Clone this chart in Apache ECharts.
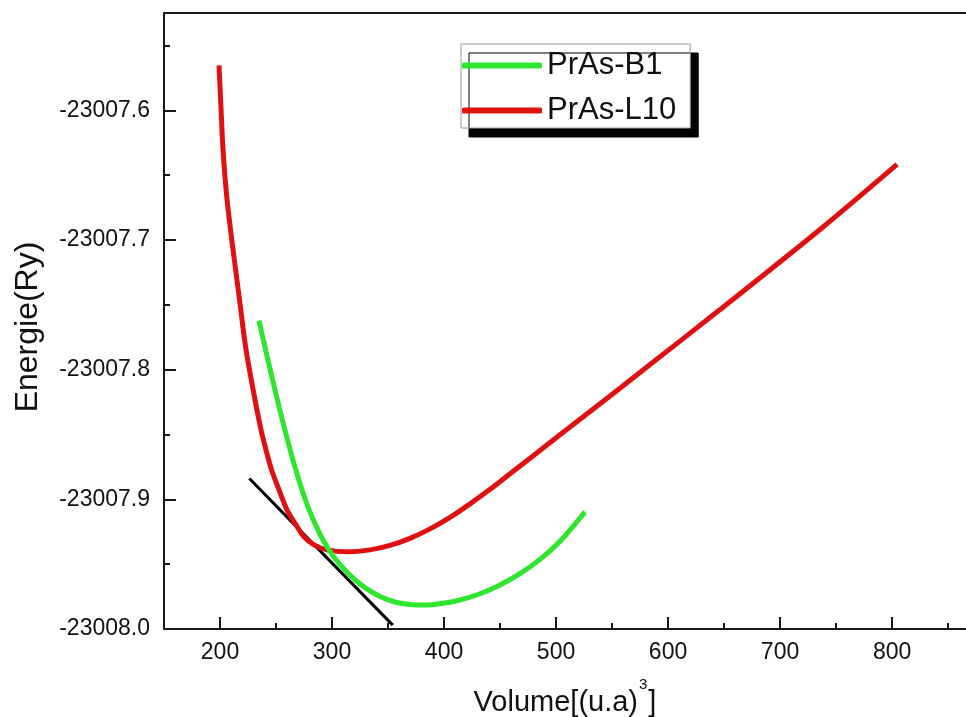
<!DOCTYPE html>
<html><head><meta charset="utf-8">
<script src="https://cdn.jsdelivr.net/npm/echarts@6/dist/echarts.min.js"></script>
<style>html,body{margin:0;padding:0;background:#fff}#c{width:966px;height:717px}</style>
</head><body><div id="c"></div>
<script>
const seriesNames = ['PrAs-B1', 'PrAs-L10'];
const b1Volume = [234.82, 241.07, 247.32, 253.57, 259.82, 266.07, 272.32, 278.57, 285.71, 292.86, 300.89, 309.82, 319.64, 330.36, 342.86, 356.25, 369.64, 382.14, 396.43, 412.5, 430.36, 448.21, 466.07, 485.71, 503.57, 525.89];
const b1Energy = [-23007.7622, -23007.7861, -23007.8093, -23007.8317, -23007.8529, -23007.8726, -23007.8903, -23007.9058, -23007.9205, -23007.9328, -23007.9436, -23007.9529, -23007.9614, -23007.9687, -23007.9749, -23007.9792, -23007.9811, -23007.9815, -23007.9805, -23007.9780, -23007.9734, -23007.9668, -23007.9583, -23007.9463, -23007.9324, -23007.9097];
const l10Volume = [199.11, 200.54, 202.68, 206.25, 211.61, 217.41, 223.21, 231.25, 236.61, 241.07, 245.98, 252.68, 259.82, 267.86, 275.0, 283.93, 295.54, 314.29, 333.93, 351.79, 369.64, 387.5, 405.36, 423.21, 441.07, 458.93, 476.79, 503.57, 539.29, 583.93, 646.43, 735.71, 804.46];
const l10Energy = [-23007.5653, -23007.5915, -23007.6301, -23007.6687, -23007.7073, -23007.7459, -23007.7846, -23007.8232, -23007.8463, -23007.8618, -23007.8772, -23007.8927, -23007.9081, -23007.9197, -23007.9290, -23007.9351, -23007.9390, -23007.9405, -23007.9390, -23007.9355, -23007.9301, -23007.9228, -23007.9139, -23007.9035, -23007.8923, -23007.8803, -23007.8683, -23007.8502, -23007.8263, -23007.7961, -23007.7537, -23007.6919, -23007.6417];
const tangentVolume = [226.2, 354.2];
const tangentEnergy = [-23007.884, -23007.997];
const xMajorTicks = [200, 300, 400, 500, 600, 700, 800];
const xMinorTicks = [250, 350, 450, 550, 650, 750, 850];
const xRange = [150, 866];
const yRange = [-23008.0, -23007.525];
const yStep = 0.1;

const pairs = (xs, ys) => xs.map((x, i) => [x, ys[i]]);
const FONT = 'Arial, "Liberation Sans", sans-serif';
const AX = '#1a1a1a';

const chart = echarts.init(document.getElementById('c'), null, {renderer: 'canvas'});
chart.setOption({
  animation: false,
  backgroundColor: '#ffffff',
  grid: {left: 164, top: 13, right: 0, bottom: 88, containLabel: false, outerBoundsMode: 'none'},
  legend: {
    data: seriesNames,
    orient: 'vertical',
    left: 461, top: 44,
    padding: [6, 14, 2, 1],
    itemGap: 14,
    itemWidth: 80, itemHeight: 6,
    itemTextGap: 6,
    icon: 'roundRect',
    backgroundColor: '#ffffff',
    borderColor: '#9a9a9a', borderWidth: 1,
    shadowColor: '#000000', shadowBlur: 0, shadowOffsetX: 8, shadowOffsetY: 9,
    textStyle: {fontFamily: FONT, fontSize: 31, color: '#111'}
  },
  xAxis: [
    {
      type: 'value', min: xRange[0], max: xRange[1], position: 'bottom',
      name: '{a|Volume[(u.a)}{s|3}{a|]}', nameLocation: 'middle', nameGap: 40, nameMoveOverlap: false,
      nameTextStyle: {fontFamily: FONT, color: '#111', rich: {
        a: {fontFamily: FONT, fontSize: 29, color: '#111', lineHeight: 48, verticalAlign: 'bottom'},
        s: {fontFamily: FONT, fontSize: 15, color: '#111', lineHeight: 15, verticalAlign: 'top', padding: [8, 1, 0, 1]}
      }},
      axisLine: {show: true, onZero: false, lineStyle: {color: AX, width: 2}},
      axisTick: {show: true, inside: true, length: 12, customValues: xMajorTicks, lineStyle: {color: AX, width: 2}},
      axisLabel: {show: true, customValues: xMajorTicks, margin: 12, fontFamily: FONT, fontSize: 23, color: '#111'},
      splitLine: {show: false}
    },
    {
      type: 'value', min: xRange[0], max: xRange[1], position: 'bottom',
      axisLine: {show: false, onZero: false},
      axisTick: {show: true, inside: true, length: 6, customValues: xMinorTicks, lineStyle: {color: AX, width: 2}},
      axisLabel: {show: false},
      splitLine: {show: false}
    },
    {
      type: 'value', min: xRange[0], max: xRange[1], position: 'top',
      axisLine: {show: true, onZero: false, lineStyle: {color: AX, width: 2}},
      axisTick: {show: false}, axisLabel: {show: false}, splitLine: {show: false}
    }
  ],
  yAxis: {
    type: 'value', min: yRange[0], max: yRange[1], interval: yStep,
    name: 'Energie(Ry)', nameLocation: 'middle', nameGap: 120, nameMoveOverlap: false,
    nameTextStyle: {fontFamily: FONT, fontSize: 32, color: '#111', padding: [0, 12, 0, 0]},
    axisLine: {show: true, onZero: false, lineStyle: {color: AX, width: 2}},
    axisTick: {show: true, inside: true, length: 12, lineStyle: {color: AX, width: 2}},
    minorTick: {show: true, splitNumber: 2, length: 6, lineStyle: {color: AX, width: 2}},
    axisLabel: {margin: 14, fontFamily: FONT, fontSize: 23, color: '#111', showMaxLabel: false,
      formatter: v => v.toFixed(1)},
    splitLine: {show: false}, minorSplitLine: {show: false}
  },
  series: [
    {name: 'tangent', type: 'line', xAxisIndex: 0, data: pairs(tangentVolume, tangentEnergy),
     showSymbol: false, lineStyle: {color: '#000000', width: 3}, z: 2, silent: true},
    {name: seriesNames[1], type: 'line', xAxisIndex: 0, data: pairs(l10Volume, l10Energy), smooth: 0.3,
     showSymbol: false, color: '#e01010', lineStyle: {color: '#e01010', width: 5}, z: 3},
    {name: seriesNames[0], type: 'line', xAxisIndex: 0, data: pairs(b1Volume, b1Energy), smooth: 0.3,
     showSymbol: false, color: '#2ee62e', lineStyle: {color: '#2ee62e', width: 5}, z: 4}
  ]
});
</script></body></html>
